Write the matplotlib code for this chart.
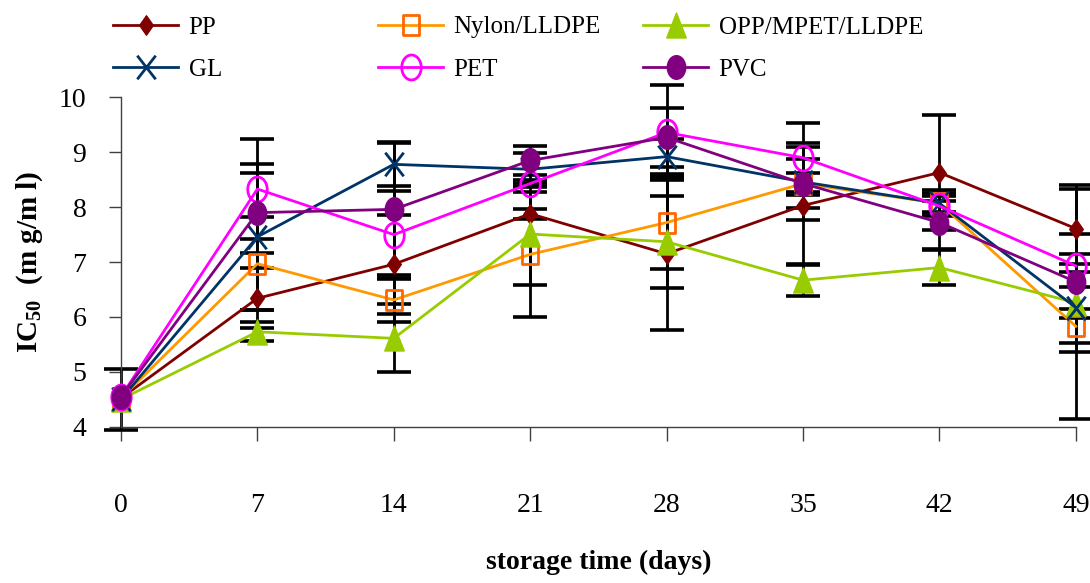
import numpy as np
import matplotlib
matplotlib.use("Agg")
import matplotlib.pyplot as plt
from matplotlib.path import Path

# storage days and IC50 values (mg/ml) for each packaging film
days = [0, 7, 14, 21, 28, 35, 42, 49]

pp = [4.52, 6.34, 6.96, 7.88, 7.15, 8.03, 8.63, 7.61]
nylon = [4.52, 6.97, 6.31, 7.14, 7.72, 8.43, 8.07, 5.83]
opp = [4.50, 5.73, 5.61, 7.51, 7.37, 6.67, 6.90, 6.26]
gl = [4.50, 7.46, 8.78, 8.69, 8.92, 8.46, 8.07, 6.17]
pet = [4.55, 8.33, 7.50, 8.43, 9.36, 8.90, 8.02, 6.93]
pvc = [4.55, 7.90, 7.96, 8.85, 9.27, 8.43, 7.72, 6.64]

# standard deviations (0 = no bar shown)
pp_sd = [0.0, 0.55, 0.90, 0.09, 1.38, 1.07, 1.05, 0.79]
nylon_sd = [0.0, 0.85, 0.40, 1.14, 0.85, 0.20, 0.18, 1.68]
opp_sd = [0.0, 0.17, 0.62, 0.93, 0.84, 0.28, 0.32, 0.28]
gl_sd = [0.55, 1.33, 0.40, 0.30, 0.32, 0.70, 0.24, 0.80]
pet_sd = [0.0, 0.91, 0.80, 0.06, 0.86, 0.63, 0.10, 1.40]
pvc_sd = [0.0, 0.73, 1.20, 0.26, 0.53, 0.44, 0.48, 0.50]

labels = ["PP", "Nylon/LLDPE", "OPP/MPET/LLDPE", "GL", "PET", "PVC"]
x_ticks = [0, 7, 14, 21, 28, 35, 42, 49]
y_ticks = [4, 5, 6, 7, 8, 9, 10]

plt.rcParams["font.family"] = ["Liberation Serif", "DejaVu Serif"]
plt.rcParams["mathtext.fontset"] = "custom"
plt.rcParams["mathtext.rm"] = "Liberation Serif"
plt.rcParams["mathtext.bf"] = "Liberation Serif:bold"

SX = 0.78  # narrow marker shapes
M, L, C = Path.MOVETO, Path.LINETO, Path.CLOSEPOLY


def narrow(verts, codes, sx=SX):
    return Path(np.asarray(verts, float) * [sx, 1.0], codes)


uc = Path.unit_circle()
m_circle = Path(uc.vertices * [SX, 1.0], uc.codes)
m_square = narrow([(-1, -1), (1, -1), (1, 1), (-1, 1), (-1, -1)], [M, L, L, L, C])
m_diamond = narrow([(0, 1), (-0.7, 0), (0, -1), (0.7, 0), (0, 1)], [M, L, L, L, C], sx=1.0)
m_triangle = narrow([(0, 1), (-1, -1), (1, -1), (0, 1)], [M, L, L, C])
m_cross = narrow([(-1, -1), (1, 1), (-1, 1), (1, -1)], [M, L, M, L])

styles = [
    dict(color="#800000", marker=m_diamond, ms=14, mfc="#800000", mec="#800000", mew=1),
    dict(color="#FF9900", marker=m_square, ms=14, mfc="none", mec="#FF6600", mew=2.0),
    dict(color="#99CC00", marker=m_triangle, ms=18, mfc="#99CC00", mec="#99CC00", mew=1),
    dict(color="#003366", marker=m_cross, ms=17, mfc="none", mec="#003366", mew=2.0),
    dict(color="#FF00FF", marker=m_circle, ms=18, mfc="none", mec="#FF00FF", mew=2.0),
    dict(color="#800080", marker=m_circle, ms=17, mfc="#800080", mec="#800080", mew=1),
]
values = [pp, nylon, opp, gl, pet, pvc]
errors = [pp_sd, nylon_sd, opp_sd, gl_sd, pet_sd, pvc_sd]

fig = plt.figure(figsize=(10.9, 5.83), dpi=100)
ax = fig.add_axes([0.111, 0.268, 0.876, 0.565])

for v, e in zip(values, errors):
    d = np.asarray(days, float)
    y = np.asarray(v, float)
    s = np.asarray(e, float)
    keep = s > 0
    cont = ax.errorbar(d[keep], y[keep], yerr=s[keep], fmt="none", ecolor="black",
                       elinewidth=2.0, capsize=12, capthick=2.6, zorder=2)
    for art in cont.lines[1] + cont.lines[2]:
        art.set_clip_on(False)

handles = []
for v, lab, st in zip(values, labels, styles):
    h, = ax.plot(days, v, lw=2.0, label=lab, zorder=3, clip_on=False, **st)
    handles.append(h)

ax.set_xlim(0, 49)
ax.set_ylim(4, 10)
ax.set_xticks(x_ticks)
ax.set_yticks(y_ticks)
for s in ("top", "right"):
    ax.spines[s].set_visible(False)
for s in ("left", "bottom"):
    ax.spines[s].set_color("#404040")
    ax.spines[s].set_linewidth(1.0)
ax.tick_params(axis="x", direction="out", length=10, width=1, color="#404040",
               pad=38, labelsize=20)
ax.tick_params(axis="y", direction="out", length=9, width=1, color="#404040",
               pad=16, labelsize=20)

ax.set_xlabel("storage time (days)", fontsize=20, fontweight="bold", va="top")
ax.xaxis.set_label_coords(0.5, -0.375)
ax.set_ylabel(r"IC$_{\mathbf{50}}$  (m g/m l)", fontsize=21, fontweight="bold")
ax.yaxis.set_label_coords(-0.08, 0.5)

# legend laid out as three columns of two entries
col_x = [113, 378, 643]
for i, xpix in enumerate(col_x):
    fig.legend([handles[i], handles[i + 3]], [labels[i], labels[i + 3]],
               loc="upper left", bbox_to_anchor=(xpix / 1090, 1 - 16 / 583),
               frameon=False, fontsize=18, handlelength=2.6,
               handletextpad=0.42, borderpad=0, borderaxespad=0,
               labelspacing=0.78, numpoints=1)

fig.savefig("out.png", dpi=100)
